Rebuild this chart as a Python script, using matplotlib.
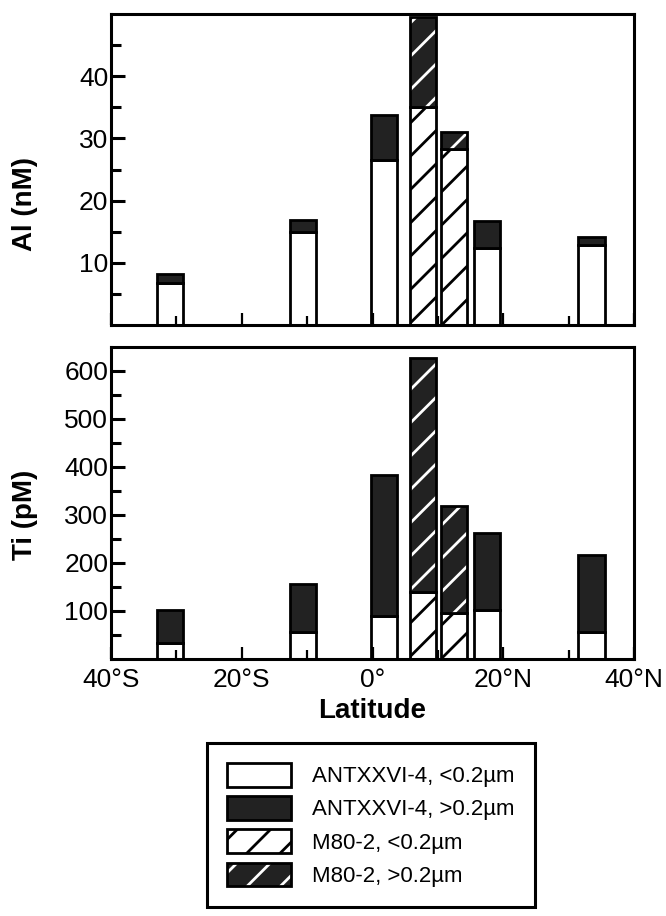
import matplotlib
matplotlib.use("Agg")
import matplotlib.pyplot as plt
from matplotlib.ticker import MultipleLocator, FixedLocator

plt.rcParams['font.family'] = ['Liberation Sans', 'DejaVu Sans']
plt.rcParams['hatch.linewidth'] = 1.0

# station latitudes (deg, south negative)
lat_ant = [-31.0, -10.6, 1.8, 17.5, 33.5]
lat_m80 = [7.7, 12.5]

# Al (nM): dissolved (<0.2um) and total
al_ant_small = [6.8, 14.9, 26.5, 12.4, 12.9]
al_ant_total = [8.2, 16.9, 33.7, 16.8, 14.2]
al_m80_small = [35.1, 28.3]
al_m80_total = [49.5, 31.1]

# Ti (pM): dissolved (<0.2um) and total
ti_ant_small = [32, 55, 89, 101, 56]
ti_ant_total = [101, 155, 383, 261, 217]
ti_m80_small = [138, 95]
ti_m80_total = [628, 319]

lat_ticks = [-40, -20, 0, 20, 40]
lat_labels = ['40°S', '20°S', '0°', '20°N', '40°N']
legend_labels = ['ANTXXVI-4, <0.2µm', 'ANTXXVI-4, >0.2µm',
                 'M80-2, <0.2µm', 'M80-2, >0.2µm']

DARK = '#222222'
W = 4.0
LW = 1.0

fig = plt.figure(figsize=(3.33, 4.58), dpi=200)
ax1 = fig.add_axes([0.1667, 0.6452, 0.7853, 0.3395])
ax2 = fig.add_axes([0.1667, 0.2811, 0.7853, 0.3401], sharex=ax1)


def stacked(ax, small_ant, total_ant, small_m80, total_m80):
    big_ant = [t - s for s, t in zip(small_ant, total_ant)]
    big_m80 = [t - s for s, t in zip(small_m80, total_m80)]
    h1 = ax.bar(lat_ant, small_ant, W, color='white', edgecolor='black', lw=LW)
    h2 = ax.bar(lat_ant, big_ant, W, bottom=small_ant, color=DARK,
                edgecolor='black', lw=LW)
    h3 = ax.bar(lat_m80, small_m80, W, color='white', edgecolor='black',
                hatch='//', lw=LW)
    # dark hatched part: white hatch lines, black outline drawn on top
    h4a = ax.bar(lat_m80, big_m80, W, bottom=small_m80, color=DARK,
                 edgecolor='white', hatch='//', lw=0)
    h4b = ax.bar(lat_m80, big_m80, W, bottom=small_m80, fill=False,
                 edgecolor='black', lw=LW)
    return [h1, h2, h3, (h4a, h4b)]


handles = stacked(ax1, al_ant_small, al_ant_total, al_m80_small, al_m80_total)
stacked(ax2, ti_ant_small, ti_ant_total, ti_m80_small, ti_m80_total)

ax1.set_ylim(0, 50)
ax1.yaxis.set_major_locator(FixedLocator([10, 20, 30, 40]))
ax1.yaxis.set_minor_locator(FixedLocator([5, 15, 25, 35, 45]))
ax2.set_ylim(0, 650)
ax2.yaxis.set_major_locator(FixedLocator([100, 200, 300, 400, 500, 600]))
ax2.yaxis.set_minor_locator(FixedLocator([50, 150, 250, 350, 450, 550]))

ax2.set_xlim(-40, 40)
ax2.set_xticks(lat_ticks)
ax2.set_xticklabels(lat_labels)
ax2.xaxis.set_minor_locator(MultipleLocator(10))

for ax in (ax1, ax2):
    for sp in ax.spines.values():
        sp.set_linewidth(1.1)
    ax.tick_params(axis='y', which='major', direction='in', length=5,
                   width=1.1, labelsize=9.5, pad=1)
    ax.tick_params(axis='y', which='minor', direction='in', length=3.5,
                   width=1.1)
    ax.tick_params(axis='x', which='major', direction='in', length=4.5,
                   width=0.8, labelsize=9.5, pad=3.4)
    ax.tick_params(axis='x', which='minor', direction='in', length=3.2,
                   width=0.8)
ax1.tick_params(axis='x', labelbottom=False)

ax1.set_ylabel('Al (nM)', fontsize=10, fontweight='bold')
ax1.yaxis.set_label_coords(-0.14, 0.39)
ax2.set_ylabel('Ti (pM)', fontsize=10, fontweight='bold')
ax2.yaxis.set_label_coords(-0.14, 0.46)
ax2.set_xlabel('Latitude', fontsize=10, fontweight='bold', labelpad=2)

leg = fig.legend(handles, legend_labels, loc='upper left',
                 bbox_to_anchor=(207 / 666, 1 - 743 / 916),
                 bbox_transform=fig.transFigure, borderaxespad=0,
                 fontsize=8, handlelength=2.88, handleheight=1.26,
                 labelspacing=0.4, handletextpad=0.95, borderpad=0.9,
                 fancybox=False, edgecolor='black', framealpha=1)
leg.get_frame().set_linewidth(1.1)

fig.savefig('out.png', dpi=200)
